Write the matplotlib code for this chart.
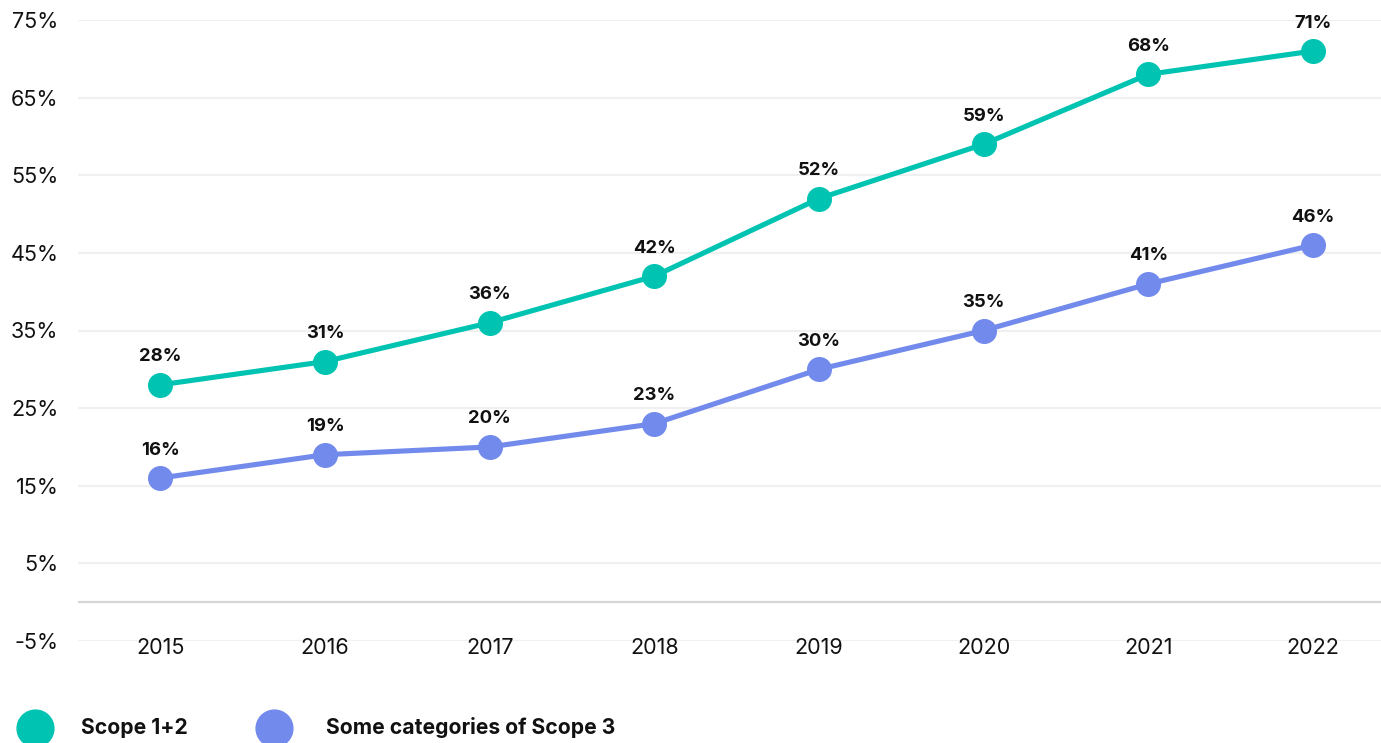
import matplotlib
matplotlib.use("Agg")
import matplotlib.pyplot as plt
from matplotlib.lines import Line2D

plt.rcParams["font.family"] = ["Inter", "DejaVu Sans"]

years = ["2015", "2016", "2017", "2018", "2019", "2020", "2021", "2022"]
scope12 = [28, 31, 36, 42, 52, 59, 68, 71]
scope3 = [16, 19, 20, 23, 30, 35, 41, 46]
yticks = [-5, 5, 15, 25, 35, 45, 55, 65, 75]
series_names = ["Scope 1+2", "Some categories of Scope 3"]
colors = ["#00C4B1", "#728AEC"]

W, H = 1381, 743
fig = plt.figure(figsize=(W / 100, H / 100), dpi=100)
ax = fig.add_axes([78 / W, 1 - 641 / H, 1 - 78 / W, (641 - 20) / H])

x = list(range(len(years)))
for vals, col in zip([scope12, scope3], colors):
    ax.plot(x, vals, color=col, lw=3.7, marker="o", ms=17, zorder=3,
            solid_capstyle="round")
    for xi, v in zip(x, vals):
        ax.annotate(f"{v}%", (xi, v), xytext=(0, 14), textcoords="offset points",
                    ha="center", va="bottom", fontsize=13.3, fontweight="bold",
                    color="#111111", zorder=4)

ax.set_ylim(-5, 75)
ax.set_xlim(-0.5, 7 + (W - 1313) / 164.7)
ax.set_yticks(yticks)
ax.set_yticklabels([f"{t}%" for t in yticks])
ax.set_xticks(x)
ax.set_xticklabels(years)
for t in yticks:
    ax.axhline(t, color="#f0f0f0", lw=1.6, zorder=1)
ax.axhline(0, color="#d6d6d6", lw=1.6, zorder=1)

ax.tick_params(axis="y", length=0, pad=14, labelsize=15.5, labelcolor="#111111")
ax.tick_params(axis="x", length=0, pad=-2, labelsize=15.5, labelcolor="#111111")
for s in ax.spines.values():
    s.set_visible(False)

# legend along the bottom
leg_y = 1 - 728 / H
for (cx, tx), name, col in zip([(35, 81), (274, 326)], series_names, colors):
    fig.add_artist(Line2D([cx / W], [leg_y], transform=fig.transFigure,
                          marker="o", ms=26.5, color=col, lw=0))
    fig.text(tx / W, leg_y, name, ha="left", va="center", fontsize=15.2,
             fontweight="bold", color="#111111")

fig.savefig("out.png", dpi=100)
